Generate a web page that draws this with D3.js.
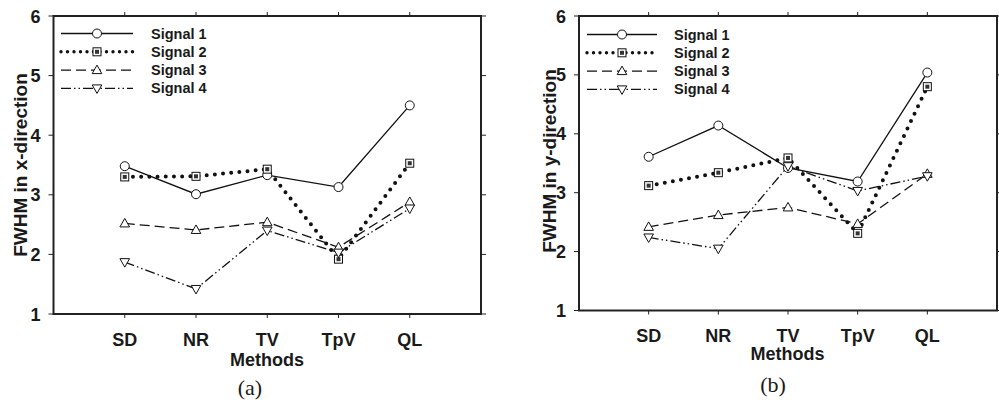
<!DOCTYPE html>
<html>
<head>
<meta charset="utf-8">
<script src="https://cdn.jsdelivr.net/npm/d3@7"></script>
<style>
  body { margin: 0; background: #fff; }
  text { font-family: "Liberation Sans", Arial, sans-serif; font-weight: bold; fill: #1a1a1a; }
  .cap { font-family: "Liberation Serif", "Times New Roman", serif; font-weight: normal; }
</style>
</head>
<body>
<div id="chart"></div>
<script>
var methods = ["SD", "NR", "TV", "TpV", "QL"];
var signalNames = ["Signal 1", "Signal 2", "Signal 3", "Signal 4"];
var yTicks = [1, 2, 3, 4, 5, 6];

// panel (a): FWHM in x-direction
var xSignal1 = [3.48, 3.01, 3.33, 3.13, 4.50];
var xSignal2 = [3.30, 3.31, 3.43, 1.92, 3.53];
var xSignal3 = [2.52, 2.41, 2.54, 2.12, 2.88];
var xSignal4 = [1.87, 1.42, 2.40, 2.03, 2.77];

// panel (b): FWHM in y-direction
var ySignal1 = [3.61, 4.14, 3.42, 3.19, 5.04];
var ySignal2 = [3.12, 3.34, 3.59, 2.31, 4.80];
var ySignal3 = [2.42, 2.62, 2.75, 2.47, 3.32];
var ySignal4 = [2.24, 2.05, 3.45, 3.03, 3.28];

var styles = [
  {dash: null, width: 1.3, cap: "butt", marker: "circle"},
  {dash: "0 8.2", width: 4, cap: "round", marker: "square"},
  {dash: "10 5", width: 1.3, cap: "butt", marker: "up"},
  {dash: "10 3 1.5 3 1.5 3", width: 1.3, cap: "butt", marker: "down"}
];

var svg = d3.select("#chart").append("svg")
    .attr("width", 999)
    .attr("height", 400);

function drawMarker(g, type, cx, cy) {
  if (type === "circle") {
    g.append("circle").attr("cx", cx).attr("cy", cy).attr("r", 4.5)
      .attr("fill", "#fff").attr("stroke", "#111").attr("stroke-width", 1);
  } else if (type === "square") {
    g.append("rect").attr("x", cx - 4).attr("y", cy - 4).attr("width", 8).attr("height", 8)
      .attr("fill", "#fff").attr("stroke", "#111").attr("stroke-width", 1);
    g.append("rect").attr("x", cx - 2).attr("y", cy - 2).attr("width", 4).attr("height", 4)
      .attr("fill", "#333");
  } else if (type === "up") {
    g.append("path").attr("d", "M" + (cx - 4.8) + "," + (cy + 3.5) + "L" + cx + "," + (cy - 5) + "L" + (cx + 4.8) + "," + (cy + 3.5) + "Z")
      .attr("fill", "#fff").attr("stroke", "#111").attr("stroke-width", 1);
  } else {
    g.append("path").attr("d", "M" + (cx - 4.8) + "," + (cy - 3.5) + "L" + cx + "," + (cy + 5) + "L" + (cx + 4.8) + "," + (cy - 3.5) + "Z")
      .attr("fill", "#fff").attr("stroke", "#111").attr("stroke-width", 1);
  }
}

function panel(p) {
  var g = svg.append("g");
  var x = d3.scalePoint().domain(methods).range([p.left, p.right]).padding(1);
  var y = d3.scaleLinear().domain([1, 6]).range([p.bottom, p.top]);

  // ticks on all four sides, pointing outward
  g.selectAll(".tl").data(yTicks).enter().append("line")
    .attr("x1", p.left - 5).attr("x2", p.left)
    .attr("y1", function(d) { return y(d); }).attr("y2", function(d) { return y(d); })
    .attr("stroke", "#222").attr("stroke-width", 1);
  g.selectAll(".tr").data(yTicks).enter().append("line")
    .attr("x1", p.right).attr("x2", p.right + 5)
    .attr("y1", function(d) { return y(d); }).attr("y2", function(d) { return y(d); })
    .attr("stroke", "#222").attr("stroke-width", 1);
  g.selectAll(".tt").data(methods).enter().append("line")
    .attr("x1", function(d) { return x(d); }).attr("x2", function(d) { return x(d); })
    .attr("y1", p.top - 4).attr("y2", p.top)
    .attr("stroke", "#222").attr("stroke-width", 1);
  g.selectAll(".tb").data(methods).enter().append("line")
    .attr("x1", function(d) { return x(d); }).attr("x2", function(d) { return x(d); })
    .attr("y1", p.bottom).attr("y2", p.bottom + 4)
    .attr("stroke", "#222").attr("stroke-width", 1);

  g.selectAll(".yl").data(yTicks).enter().append("text")
    .attr("x", p.left - 13).attr("y", function(d) { return y(d) + 6.5; })
    .attr("text-anchor", "end").style("font-size", "18px")
    .text(function(d) { return d; });
  g.selectAll(".xl").data(methods).enter().append("text")
    .attr("x", function(d) { return x(d); }).attr("y", p.catY)
    .attr("text-anchor", "middle").style("font-size", "18px")
    .text(function(d) { return d; });

  g.append("text").attr("x", p.methodsX).attr("y", p.methodsY)
    .attr("text-anchor", "middle").style("font-size", "18px").text("Methods");
  g.append("text")
    .attr("transform", "translate(" + p.ylabX + "," + p.ylabY + ") rotate(-90)")
    .attr("text-anchor", "middle").style("font-size", "19px").text(p.ylabel);
  g.append("text").attr("class", "cap").attr("x", p.capX).attr("y", p.capY)
    .attr("text-anchor", "middle").style("font-size", "22px").text(p.caption);

  var line = d3.line()
    .x(function(d, i) { return x(methods[i]); })
    .y(function(d) { return y(d); });

  p.series.forEach(function(vals, k) {
    var s = styles[k];
    g.append("path").datum(vals).attr("d", line)
      .attr("fill", "none").attr("stroke", "#111")
      .attr("stroke-width", s.width).attr("stroke-linecap", s.cap)
      .attr("stroke-dasharray", s.dash);
  });
  p.series.forEach(function(vals, k) {
    vals.forEach(function(v, i) { drawMarker(g, styles[k].marker, x(methods[i]), y(v)); });
  });

  // legend
  signalNames.forEach(function(name, k) {
    var s = styles[k];
    var ly = p.legY + k * 18.3;
    g.append("line").attr("x1", p.legX0).attr("x2", p.legX1).attr("y1", ly).attr("y2", ly)
      .attr("stroke", "#111").attr("stroke-width", s.width === 4 ? 3.4 : s.width)
      .attr("stroke-linecap", s.cap)
      .attr("stroke-dasharray", s.width === 4 ? "0 6.5" : s.dash);
    drawMarker(g, s.marker, (p.legX0 + p.legX1) / 2, ly);
    g.append("text").attr("x", p.legText).attr("y", ly + 5)
      .style("font-size", "14.5px").text(name);
  });

  g.append("rect").attr("x", p.left).attr("y", p.top)
    .attr("width", p.right - p.left).attr("height", p.bottom - p.top)
    .attr("fill", "none").attr("stroke", "#222").attr("stroke-width", 2);
}

panel({
  left: 53.5, right: 481, top: 16, bottom: 314,
  series: [xSignal1, xSignal2, xSignal3, xSignal4],
  ylabel: "FWHM in x-direction", ylabX: 27, ylabY: 165,
  catY: 346, methodsX: 267, methodsY: 366, capX: 250, capY: 395, caption: "(a)",
  legX0: 61, legX1: 133, legY: 33.5, legText: 151
});
panel({
  left: 579, right: 997, top: 16, bottom: 310.5,
  series: [ySignal1, ySignal2, ySignal3, ySignal4],
  ylabel: "FWHM in y-direction", ylabX: 556, ylabY: 161,
  catY: 341.5, methodsX: 787.5, methodsY: 360, capX: 773, capY: 392, caption: "(b)",
  legX0: 587, legX1: 657, legY: 34.5, legText: 674
});
</script>
</body>
</html>
